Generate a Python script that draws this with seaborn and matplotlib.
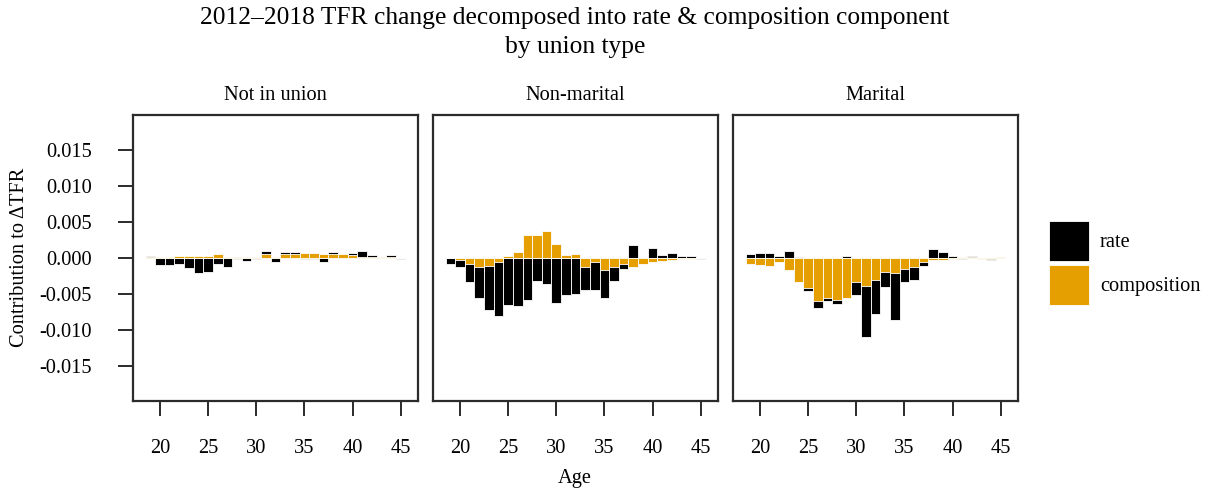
import numpy as np
import pandas as pd
import matplotlib
matplotlib.use("Agg")
import matplotlib.pyplot as plt
from matplotlib.patches import Patch
import seaborn as sns

# ---------------- data ----------------
ages = list(range(19, 46))
panels = ["Not in union", "Non-marital", "Marital"]
series_labels = ["rate", "composition"]

not_in_union_rate = [0.0002, -0.0010, -0.0010, -0.0008, -0.0014, -0.0021, -0.0019, -0.0008, -0.0013,
                     -0.0002, -0.0004, -0.0002, 0.0004, -0.0005, 0.0002, 0.0003, -0.0001, -0.0002,
                     -0.0006, 0.0003, 0.0000, 0.0003, 0.0008, 0.0003, 0.0000, 0.0003, -0.0001]
not_in_union_comp = [0.0001, 0.0002, 0.0002, 0.0003, 0.0003, 0.0003, 0.0003, 0.0005, 0.0001,
                     0.0002, 0.0001, 0.0002, 0.0006, 0.0002, 0.0006, 0.0006, 0.0007, 0.0007,
                     0.0006, 0.0006, 0.0005, 0.0004, 0.0002, 0.0001, 0.0001, 0.0001, 0.0000]

nonmarital_rate = [-0.0008, -0.0009, -0.0025, -0.0044, -0.0061, -0.0075, -0.0066, -0.0067, -0.0059,
                   -0.0032, -0.0036, -0.0062, -0.0052, -0.0050, -0.0033, -0.0038, -0.0038, -0.0019,
                   -0.0008, 0.0018, 0.0000, 0.0014, 0.0004, 0.0007, 0.0003, 0.0003, -0.0001]
nonmarital_comp = [0.0000, -0.0003, -0.0009, -0.0012, -0.0011, -0.0006, 0.0003, 0.0008, 0.0032,
                   0.0032, 0.0038, 0.0019, 0.0004, 0.0006, -0.0012, -0.0006, -0.0017, -0.0013,
                   -0.0008, -0.0013, -0.0009, -0.0005, -0.0004, -0.0003, -0.0002, -0.0002, 0.0000]

marital_rate = [0.0006, 0.0007, 0.0007, 0.0003, 0.0010, 0.0002, -0.0004, -0.0010, -0.0004,
                -0.0005, 0.0003, -0.0019, -0.0071, -0.0048, -0.0021, -0.0065, -0.0019, -0.0017,
                -0.0005, 0.0012, 0.0009, 0.0003, -0.0001, 0.0002, 0.0000, -0.0002, 0.0000]
marital_comp = [-0.0008, -0.0010, -0.0011, -0.0006, -0.0017, -0.0034, -0.0042, -0.0060, -0.0056,
                -0.0059, -0.0055, -0.0033, -0.0039, -0.0030, -0.0019, -0.0021, -0.0015, -0.0013,
                -0.0006, -0.0003, -0.0003, -0.0001, 0.0001, 0.0001, -0.0001, -0.0001, 0.0002]

rates = [not_in_union_rate, nonmarital_rate, marital_rate]
comps = [not_in_union_comp, nonmarital_comp, marital_comp]

xticks = [20, 25, 30, 35, 40, 45]
yticks = [-0.015, -0.010, -0.005, 0.000, 0.005, 0.010, 0.015]

RATE_COL = "#000000"
COMP_COL = "#E69F00"
FRAME_COL = "#2b2b2b"

# ---------------- style ----------------
sns.set_style("white")
plt.rcParams["font.family"] = ["Liberation Serif", "DejaVu Serif"]
plt.rcParams["text.color"] = "black"
plt.rcParams["xtick.labelcolor"] = "black"
plt.rcParams["ytick.labelcolor"] = "black"

W, H = 1205, 490
fig = plt.figure(figsize=(W / 100, H / 100), dpi=100)

FS = 14.7
lefts = [133, 433, 733]
pw, top, bottom = 285, 115, 401

for i, name in enumerate(panels):
    ax = fig.add_axes([lefts[i] / W, 1 - bottom / H, pw / W, (bottom - top) / H])
    df = pd.DataFrame({"age": ages, "rate": rates[i], "composition": comps[i]})
    # ggplot-style stacking: composition sits next to zero, rate stacked beyond it
    same = np.sign(df["rate"]) == np.sign(df["composition"])
    df["outer"] = np.where(same, df["rate"] + df["composition"], df["rate"])
    sns.barplot(data=df, x="age", y="outer", native_scale=True, width=1.0,
                color=RATE_COL, saturation=1, errorbar=None,
                edgecolor="white", linewidth=0.6, ax=ax)
    sns.barplot(data=df, x="age", y="composition", native_scale=True, width=1.0,
                color=COMP_COL, saturation=1, errorbar=None,
                edgecolor="white", linewidth=0.6, ax=ax)
    ax.set_xlim(17.2, 46.8)
    ax.set_ylim(-0.0199, 0.0199)
    ax.set_xlabel("")
    ax.set_ylabel("")
    ax.set_xticks(xticks)
    ax.set_xticklabels([str(t) for t in xticks])
    for s in ax.spines.values():
        s.set_visible(True)
        s.set_color(FRAME_COL)
        s.set_linewidth(1.6)
    ax.tick_params(axis="x", direction="out", length=10.5, width=1.4, color=FRAME_COL,
                   pad=17, labelsize=FS, bottom=True)
    if i == 0:
        ax.set_yticks(yticks)
        ax.set_yticklabels([f"{t:.3f}" for t in yticks])
        ax.tick_params(axis="y", direction="out", length=10.5, width=1.4, color=FRAME_COL,
                       pad=19, labelsize=FS, left=True)
    else:
        ax.set_yticks([])
    ax.grid(False)
    fig.text((lefts[i] + pw / 2) / W, 1 - 95 / H, name, ha="center", va="center", size=FS)

fig.text(575 / W, 1 - 18 / H, "2012\u20132018 TFR change decomposed into rate & composition component",
         ha="center", va="center", size=18.4)
fig.text(575 / W, 1 - 47 / H, "by union type", ha="center", va="center", size=18.4)
fig.text(20 / W, 1 - 257 / H, "Contribution to \u0394TFR", rotation=90, ha="center", va="center", size=FS)
fig.text(575 / W, 1 - 478 / H, "Age", ha="center", va="center", size=FS)

handles = [Patch(facecolor=RATE_COL, edgecolor="white", linewidth=0.6),
           Patch(facecolor=COMP_COL, edgecolor="white", linewidth=0.6)]
fig.legend(handles, series_labels, loc="upper left", bbox_to_anchor=(1049 / W, 1 - 221 / H),
           frameon=False, fontsize=FS, handlelength=1.95, handleheight=2.65,
           labelspacing=0.2, handletextpad=0.55, borderpad=0, borderaxespad=0)

fig.savefig("out.png", dpi=100)
